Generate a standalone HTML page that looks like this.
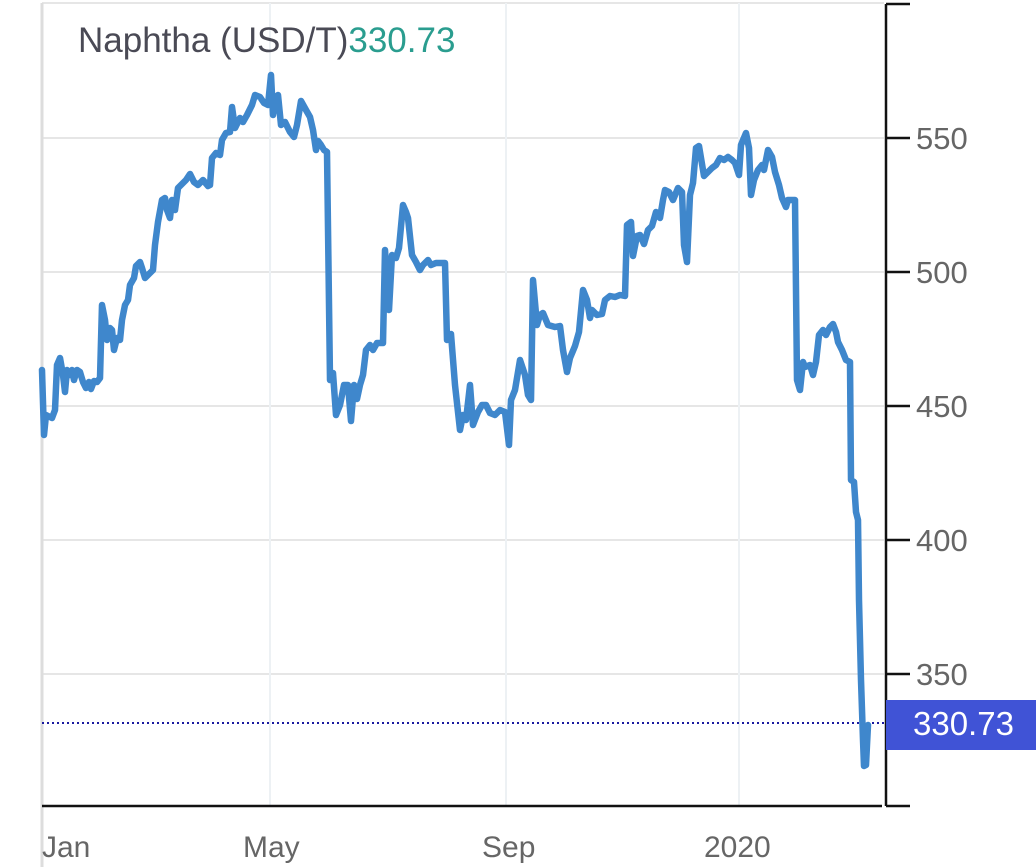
<!DOCTYPE html>
<html><head><meta charset="utf-8"><style>
html,body{margin:0;padding:0;background:#fff;}
svg{display:block;font-family:"Liberation Sans",Roboto,sans-serif;}
</style></head><body>
<svg width="1036" height="867" viewBox="0 0 1036 867">
<rect width="1036" height="867" fill="#fff"/>
<g stroke="#e6e6e6" stroke-width="2">
<line x1="42" y1="3" x2="884" y2="3"/>
<line x1="42" y1="138" x2="884" y2="138"/>
<line x1="42" y1="272" x2="884" y2="272"/>
<line x1="42" y1="406" x2="884" y2="406"/>
<line x1="42" y1="540" x2="884" y2="540"/>
<line x1="42" y1="674" x2="884" y2="674"/>
</g>
<g stroke="#edf1f4" stroke-width="2">
<line x1="270" y1="3" x2="270" y2="806"/>
<line x1="506" y1="3" x2="506" y2="806"/>
<line x1="739" y1="3" x2="739" y2="806"/>
</g>
<line x1="42" y1="3" x2="42" y2="867" stroke="#ddd" stroke-width="3"/>
<line x1="42" y1="806" x2="882" y2="806" stroke="#111" stroke-width="2.5"/>
<line x1="886" y1="4" x2="886" y2="806" stroke="#111" stroke-width="2.5"/>
<g stroke="#111" stroke-width="2.5">
<line x1="886" y1="4" x2="910" y2="4"/>
<line x1="886" y1="138" x2="910" y2="138"/>
<line x1="886" y1="272" x2="910" y2="272"/>
<line x1="886" y1="406" x2="910" y2="406"/>
<line x1="886" y1="540" x2="910" y2="540"/>
<line x1="886" y1="674" x2="910" y2="674"/>
<line x1="886" y1="806" x2="910" y2="806"/>
</g>
<g fill="#666" font-size="31">
<text x="916" y="149">550</text>
<text x="916" y="283">500</text>
<text x="916" y="417">450</text>
<text x="916" y="551">400</text>
<text x="916" y="685">350</text>
</g>
<g fill="#666" font-size="30">
<text x="42" y="857">Jan</text>
<text x="243" y="857">May</text>
<text x="482" y="857">Sep</text>
<text x="704" y="857">2020</text>
</g>
<line x1="42" y1="723" x2="884" y2="723" stroke="#1a1aa0" stroke-width="2" stroke-dasharray="2,3"/>
<rect x="886" y="700" width="150" height="50" fill="#4053d6"/>
<text x="913" y="735" fill="#fff" font-size="33">330.73</text>
<text x="78" y="52" font-size="35" fill="#4a4a55">Naphtha (USD/T)<tspan fill="#2a9d8f">330.73</tspan></text>
<polyline fill="none" stroke="#3f87cc" stroke-width="6.5" stroke-linejoin="round" stroke-linecap="round" points="42,370 44,435 46,415 52,418 55,410 57,365 60,358 63,375 65,392 67,370 70,375 72,370 74,380 77,370 80,372 83,382 86,388 89,382 91,389 94,381 97,382 100,378 102,305 105,320 107,340 110,328 112,330 114,350 117,338 120,340 122,320 125,305 128,300 130,285 134,278 136,266 140,262 142,268 145,278 150,273 153,270 155,245 158,222 162,200 165,198 167,210 170,218 172,200 175,210 178,188 182,184 186,180 190,174 194,182 198,185 203,180 208,186 210,185 212,158 216,153 220,155 222,140 226,133 230,132 232,107 235,128 240,118 243,122 247,115 252,105 255,95 260,97 264,103 268,105 271,75 273,115 276,97 278,95 281,125 285,122 290,132 294,137 297,125 301,101 306,110 310,117 313,130 316,150 318,141 321,145 324,150 327,152 330,380 333,373 336,415 340,405 344,385 348,385 351,421 354,385 357,399 360,385 363,375 366,350 370,345 373,350 377,343 383,343 385,250 389,310 392,255 396,258 399,248 403,205 406,212 408,218 412,255 416,262 420,270 423,265 428,260 431,265 436,263 445,263 447,340 451,334 455,385 460,430 463,415 466,420 470,385 473,425 478,412 482,405 486,405 490,413 495,415 500,410 505,412 509,445 511,400 515,390 520,360 525,375 528,395 531,400 533,280 537,325 540,315 543,313 548,325 555,327 560,326 563,350 567,372 570,358 575,346 579,332 583,290 587,300 590,318 592,310 597,315 602,314 605,300 610,296 615,297 620,295 625,296 627,225 631,222 633,256 637,236 640,235 644,244 648,230 652,226 656,212 660,218 663,200 665,190 669,192 673,200 678,188 682,192 684,245 687,262 690,195 693,183 696,148 699,146 704,176 708,172 712,168 716,165 720,158 724,160 728,157 732,160 735,163 739,175 741,145 746,133 749,148 751,195 754,180 758,170 762,165 764,170 768,150 772,157 775,172 779,185 782,198 786,207 788,200 795,200 797,380 800,390 803,362 805,367 810,365 813,375 816,362 819,335 823,330 826,335 830,327 833,324 836,332 838,342 842,350 846,360 850,362 851,480 854,482 856,512 858,520 859,600 861,680 863,740 864,766 866,765 868,725"/>
</svg>
</body></html>
